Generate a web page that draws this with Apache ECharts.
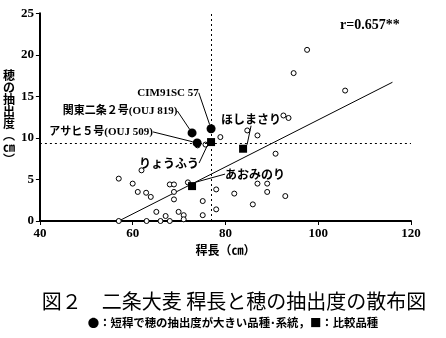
<!DOCTYPE html>
<html><head><meta charset="utf-8">
<script src="https://cdn.jsdelivr.net/npm/echarts@6/dist/echarts.min.js"></script>
<style>html,body{margin:0;padding:0;background:#fff}#c{width:446px;height:338px}</style>
</head><body><div id="c"></div>
<script>
// ---- data ----
const otherX = [57,63,66,68, 57,60,61.1,61.9,62.9,63.9,65.1,67.1,68,68.9,68.9,68.9,69.9,71,71,71.9,74,75.7,75.1,75.1,78,78,78.9,81.9,84.7,85.9,86.9,86.9,89,89,90.8,92.9,92.5,93.6,94.7,97.6,105.8];
const otherY = [0,0,0,0, 5.1,4.5,3.5,6.1,3.4,2.9,1.1,0.6,4.4,4.4,3.5,2.6,1.1,0.7,0.2,4.65,9.1,9.2,2.4,0.7,3.8,1.4,10.1,3.3,10.9,2.0,10.3,4.5,4.5,3.5,8.1,3.0,12.7,12.4,17.8,20.6,15.7];
const shortNames = ['CIM91SC 57','関東二条２号(OUJ 819)','アサヒ５号(OUJ 509)'];
const shortX = [76.9, 72.8, 73.9];
const shortY = [11.1, 10.6, 9.4];
const checkNames = ['りょうふう','ほしまさり','あおみのり'];
const checkX = [76.9, 83.8, 72.8];
const checkY = [9.5, 8.7, 4.2];
const regX = [57, 116];
const regY = [0, 16.7];
const refX = 77;
const refY = 9.3;
const xTicks = [40, 60, 80, 100, 120];
const yTicks = [0, 5, 10, 15, 20, 25];
const corrText = 'r=0.657**';
const caption = '図２　二条大麦 稈長と穂の抽出度の散布図';
const subCaption = '●：短稈で穂の抽出度が大きい品種･系統，■：比較品種';

// ---- chart ----
const serif = "'Liberation Serif','Noto Sans CJK JP',serif";
const cjk = "'Noto Sans CJK JP',sans-serif";
const shortOffsets = [[-43,-36],[-72,-22],[-96,-11]];
const checkOffsets = [[-42,21],[8,-29],[63,-12]];
const zip = (a,b) => a.map((v,i)=>[v,b[i]]);

const chart = echarts.init(document.getElementById('c'), null, {renderer:'canvas'});
const lbl = {show:true, position:'inside', color:'#000', fontFamily:serif, fontWeight:'bold', fontSize:11, textBorderWidth:0};
chart.setOption({
  animation:false,
  backgroundColor:'#fff',
  grid:{left:37.5, right:35, top:13.3, bottom:117},
  xAxis:{type:'value', min:xTicks[0], max:xTicks[xTicks.length-1], interval:20,
    name:'稈長（㎝）', nameLocation:'middle', nameGap:20,
    nameTextStyle:{fontFamily:cjk, fontWeight:'bold', fontSize:12, color:'#000'},
    axisLine:{show:true, onZero:false, lineStyle:{color:'#000', width:2}},
    axisTick:{show:true, length:4, lineStyle:{color:'#000', width:1}},
    axisLabel:{fontFamily:serif, fontWeight:'bold', fontSize:13, color:'#000', margin:6},
    splitLine:{show:false}},
  yAxis:{type:'value', min:yTicks[0], max:yTicks[yTicks.length-1], interval:5,
    name:'穂\nの\n抽\n出\n度\n︵\n㎝\n︶', nameLocation:'middle', nameRotate:0, nameGap:21,
    nameTextStyle:{fontFamily:cjk, fontWeight:'bold', fontSize:12, lineHeight:12, color:'#000'},
    axisLine:{show:true, onZero:false, lineStyle:{color:'#000', width:2}},
    axisTick:{show:true, length:4, lineStyle:{color:'#000', width:1}},
    axisLabel:{fontFamily:serif, fontWeight:'bold', fontSize:13, color:'#000', margin:6},
    splitLine:{show:false}},
  graphic:[
    {type:'text', x:340, y:25, style:{text:corrText, font:"bold 14px 'Liberation Serif'", fill:'#000', verticalAlign:'middle'}},
    {type:'text', x:234, y:301, style:{text:caption, font:"20px 'Noto Sans CJK JP'", fill:'#000', align:'center', verticalAlign:'middle'}},
    {type:'text', x:233, y:323, style:{text:subCaption, font:"bold 11.4px 'Noto Sans CJK JP'", fill:'#000', align:'center', verticalAlign:'middle'}}
  ],
  series:[
    {type:'line', data:zip(regX,regY), showSymbol:false, symbol:'none', silent:true,
      lineStyle:{color:'#000', width:1}, z:1},
    {type:'scatter', data:zip(otherX,otherY), symbol:'circle', symbolSize:5,
      itemStyle:{color:'#fff', borderColor:'#000', borderWidth:1, opacity:1}, z:2,
      markLine:{silent:true, symbol:'none', label:{show:false},
        lineStyle:{color:'#000', width:1, type:[2,3]},
        data:[{xAxis:refX},{yAxis:refY}]}},
    {type:'scatter', data:zip(shortX,shortY), symbol:'circle', symbolSize:9,
      itemStyle:{color:'#000', opacity:1}, z:4,
      label:Object.assign({formatter:p=>shortNames[p.dataIndex]}, lbl),
      labelLine:{show:true, lineStyle:{color:'#000', width:1}},
      labelLayout:p=>({dx:shortOffsets[p.dataIndex][0], dy:shortOffsets[p.dataIndex][1], hideOverlap:false})},
    {type:'scatter', data:zip(checkX,checkY), symbol:'rect', symbolSize:8,
      itemStyle:{color:'#000', opacity:1}, z:4,
      label:Object.assign({formatter:p=>checkNames[p.dataIndex]}, lbl, {fontFamily:cjk, fontSize:12}),
      labelLine:{show:true, lineStyle:{color:'#000', width:1}},
      labelLayout:p=>({dx:checkOffsets[p.dataIndex][0], dy:checkOffsets[p.dataIndex][1], hideOverlap:false})}
  ]
});
</script>
</body></html>
